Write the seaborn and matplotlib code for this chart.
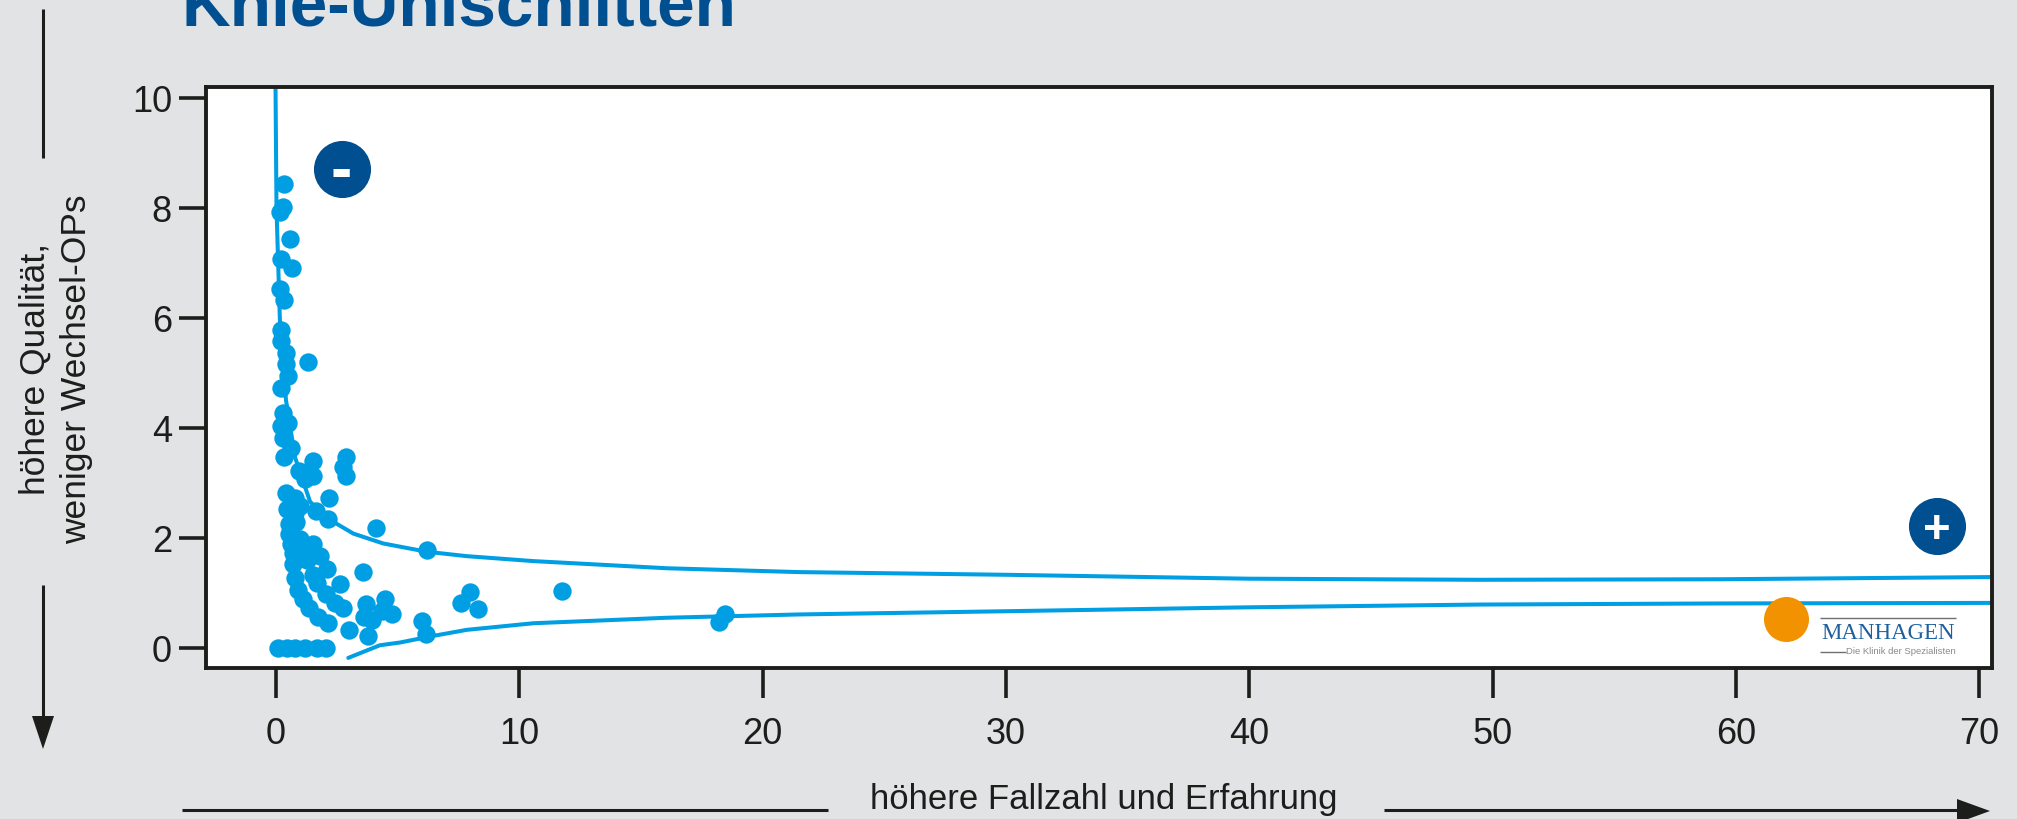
import matplotlib
matplotlib.use("Agg")
import matplotlib.pyplot as plt
from matplotlib.lines import Line2D
from matplotlib.patches import Polygon
import pandas as pd
import seaborn as sns

W, H = 2017, 819

# Kliniken: Fallzahl / Wechselquote
cases = [0.33, 0.30, 0.16, 0.59, 0.21, 0.64, 0.16, 0.33, 0.22, 0.22, 0.41, 0.41, 1.32, 0.48,
         0.22, 0.27, 0.51, 0.22, 0.30, 0.60, 0.32, 1.52, 0.96, 1.19, 1.52, 2.86, 2.77, 2.86,
         2.18, 0.41, 0.78, 0.99, 0.44, 1.63, 2.14, 4.11, 6.22, 0.78, 0.53, 0.81, 0.53, 0.99,
         0.60, 1.53, 0.99, 0.69, 1.26, 1.81, 1.53, 1.26, 0.69, 2.08, 3.58, 1.51, 1.70, 2.63,
         0.78, 0.89, 2.05, 4.48, 1.10, 2.42, 3.69, 7.59, 7.99, 8.32, 2.77, 1.37, 4.34, 4.75,
         3.63, 3.95, 1.73, 2.14, 3.00, 3.78, 6.00, 6.15, 11.75, 18.22, 18.44,
         0.07, 0.44, 0.78, 1.19, 1.67, 2.05]
revisions = [8.44, 8.02, 7.93, 7.44, 7.07, 6.91, 6.52, 6.32, 5.79, 5.59, 5.36, 5.16, 5.20, 4.95,
             4.72, 4.27, 4.10, 4.04, 3.81, 3.63, 3.47, 3.40, 3.21, 3.08, 3.13, 3.47, 3.30, 3.13,
             2.72, 2.82, 2.72, 2.58, 2.53, 2.50, 2.35, 2.19, 1.78, 2.45, 2.25, 2.30, 2.07, 1.99,
             1.90, 1.90, 1.84, 1.72, 1.75, 1.67, 1.69, 1.60, 1.53, 1.44, 1.38, 1.33, 1.18, 1.17,
             1.28, 1.05, 0.98, 0.90, 0.89, 0.82, 0.80, 0.82, 1.01, 0.71, 0.72, 0.72, 0.68, 0.61,
             0.56, 0.51, 0.57, 0.45, 0.33, 0.22, 0.50, 0.26, 1.04, 0.48, 0.61,
             0, 0, 0, 0, 0, 0]

# Grenzkurven
upper_x = [-0.02, 0.02, 0.11, 0.16, 0.41, 0.78, 1.40, 2.14, 3.18, 4.41, 6.2, 7.84, 10.58, 16.06,
           21.5, 30.2, 40, 49.5, 59.4, 70.6]
upper_y = [10.2, 8.0, 6.69, 5.96, 4.51, 3.47, 2.66, 2.35, 2.08, 1.90, 1.75, 1.67, 1.58, 1.45,
           1.38, 1.33, 1.26, 1.24, 1.25, 1.29]
lower_x = [2.97, 4.27, 5.1, 6.46, 7.84, 10.58, 16.06, 21.5, 30.2, 40, 49.5, 59.4, 70.6]
lower_y = [-0.18, 0.05, 0.10, 0.22, 0.33, 0.45, 0.55, 0.61, 0.67, 0.74, 0.79, 0.81, 0.82]

manhagen_x = [62.08]
manhagen_y = [0.53]
minus_x, minus_y = [2.70], [8.71]
plus_x, plus_y = [68.27], [2.21]

x_ticks = [0, 10, 20, 30, 40, 50, 60, 70]
y_ticks = [0, 2, 4, 6, 8, 10]

BG = "#e1e3e5"
INK = "#1d1d1b"
LIGHT = "#009fe3"
DARK = "#004f91"
ORANGE = "#f39200"

sns.set_style("white")
plt.rcParams["font.family"] = ["Liberation Sans", "DejaVu Sans"]


def px(x, y):
    return x / W, 1 - y / H


fig = plt.figure(figsize=(W / 100, H / 100), dpi=100, facecolor=BG)
l, b = px(206, 668)
r, t = px(1992, 87)
ax = fig.add_axes([l, b, r - l, t - b], facecolor="white")

pts = pd.DataFrame({"cases": cases, "revisions": revisions})
sns.lineplot(x=upper_x, y=upper_y, sort=False, estimator=None, color=LIGHT, linewidth=2.9, ax=ax)
sns.lineplot(x=lower_x, y=lower_y, sort=False, estimator=None, color=LIGHT, linewidth=2.9, ax=ax)
sns.scatterplot(data=pts, x="cases", y="revisions", color=LIGHT, s=175, linewidth=0, ax=ax, zorder=3)
sns.scatterplot(x=manhagen_x, y=manhagen_y, color=ORANGE, s=1050, linewidth=0, ax=ax, zorder=4)
sns.scatterplot(x=minus_x, y=minus_y, color=DARK, s=1690, linewidth=0, ax=ax, zorder=4)
sns.scatterplot(x=plus_x, y=plus_y, color=DARK, s=1690, linewidth=0, ax=ax, zorder=4)
ax.text(minus_x[0] - 0.04, minus_y[0] + 0.04, "-", color="white", fontsize=46, fontweight="bold",
        ha="center", va="center_baseline", zorder=5)
ax.text(plus_x[0], plus_y[0], "+", color="white", fontsize=34, fontweight="bold",
        ha="center", va="center_baseline", zorder=5)

ax.set_xlim((206 - 276) / 24.33, (1992 - 276) / 24.33)
ax.set_ylim((648 - 668) / 55, (648 - 87) / 55)
ax.set_xticks(x_ticks)
ax.set_yticks(y_ticks)
ax.tick_params(axis="x", bottom=True, length=21.5, width=2.6, color=INK, labelcolor=INK, labelsize=26, pad=14)
ax.tick_params(axis="y", left=True, length=19.5, width=2.6, color=INK, labelcolor=INK, labelsize=26, pad=5)
for s in ax.spines.values():
    s.set_linewidth(2.8)
    s.set_color(INK)
    s.set_zorder(6)

ax.set_xlabel("höhere Fallzahl und Erfahrung", fontsize=25, color=INK)
ax.xaxis.set_label_coords((1104 - 206) / (1992 - 206), (668 - 800) / (668 - 87), transform=ax.transAxes)
ax.xaxis.label.set_va("center")
ax.set_ylabel("höhere Qualität,\nweniger Wechsel-OPs", fontsize=25.5, color=INK, linespacing=1.3)
ax.yaxis.set_label_coords((56 - 206) / (1992 - 206), (668 - 369) / (668 - 87), transform=ax.transAxes)
ax.yaxis.label.set_va("center")

fig.text(*px(181, 26), "Knie-Unischlitten", color=DARK, fontsize=48.6, fontweight="bold",
         ha="left", va="baseline")


def rule(x0, y0, x1, y1, color=INK, lw=2.2):
    fig.add_artist(Line2D([px(x0, y0)[0], px(x1, y1)[0]], [px(x0, y0)[1], px(x1, y1)[1]],
                          transform=fig.transFigure, color=color, linewidth=lw,
                          solid_capstyle="butt"))


def head(points):
    fig.add_artist(Polygon([px(*p) for p in points], closed=True, transform=fig.transFigure,
                           facecolor=INK, edgecolor="none"))


# Pfeile aussen
rule(43, 9, 43, 158)
rule(43, 585, 43, 720)
head([(32, 716), (54, 716), (43, 749)])
rule(182, 810, 828, 810)
rule(1384, 810, 1960, 810)
head([(1957, 799), (1957, 823), (1990, 811)])

# Logo
rule(1820, 618, 1956, 618, color="#6f6f6e", lw=1.0)
rule(1820, 652, 1846, 652, color="#6f6f6e", lw=1.0)
fig.text(*px(1821, 639), "MANHAGEN", family="Liberation Serif", color="#1f5f9e", fontsize=16.5,
         ha="left", va="baseline", zorder=7)
fig.text(*px(1956, 654), "Die Klinik der Spezialisten", color="#8a8a8a", fontsize=6.8,
         ha="right", va="baseline", zorder=7)

fig.savefig("out.png", dpi=100, facecolor=BG)
